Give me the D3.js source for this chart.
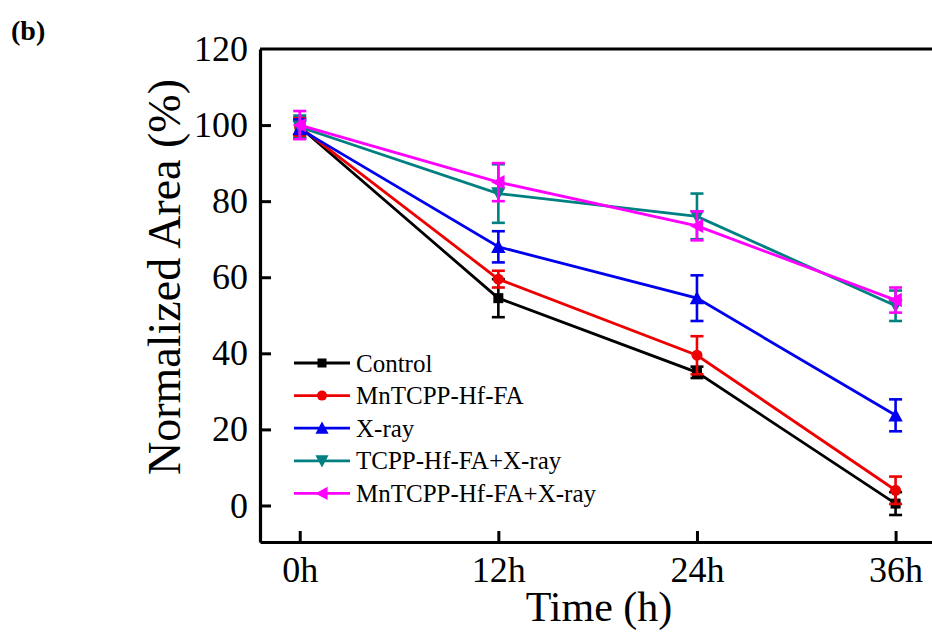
<!DOCTYPE html>
<html>
<head>
<meta charset="utf-8">
<script src="https://cdn.jsdelivr.net/npm/d3@7"></script>
<style>
  body { margin: 0; background: #fff; }
  svg { display: block; }
  svg text { font-family: "Liberation Serif", "Times New Roman", serif !important; }
</style>
</head>
<body>
<svg id="chart"></svg>
<script>
const WIDTH = 932, HEIGHT = 634;
const FONT = "Liberation Serif";

// time points (h) and tick labels
const times = [0, 12, 24, 36];
const timeLabels = ["0h", "12h", "24h", "36h"];
const yTicks = [0, 20, 40, 60, 80, 100, 120];

// series names / values / error bars
const names = ["Control", "MnTCPP-Hf-FA", "X-ray", "TCPP-Hf-FA+X-ray", "MnTCPP-Hf-FA+X-ray"];
const controlVals = [99.5, 54.5, 35, 0.5];
const controlErr = [2, 5, 1.5, 3];
const mnVals = [99.5, 59.5, 39.5, 4];
const mnErr = [2.5, 2.2, 5, 3.6];
const xrayVals = [99, 68, 54.5, 23.7];
const xrayErr = [2.5, 4.1, 6, 4.2];
const tcppVals = [99.5, 82, 76, 52.5];
const tcppErr = [3, 7.7, 6, 4];
const mnxVals = [100, 85, 73.5, 54];
const mnxErr = [3.7, 5, 3.8, 3.3];

const colors = ["#000000", "#ee0000", "#0000ee", "#008080", "#ff00ff"];
const symbols = ["square", "circle", "up", "down", "left"];

const series = [
    [controlVals, controlErr],
    [mnVals, mnErr],
    [xrayVals, xrayErr],
    [tcppVals, tcppErr],
    [mnxVals, mnxErr]
].map(([v, e], i) => ({
    name: names[i],
    color: colors[i],
    symbol: symbols[i],
    points: times.map((t, j) => ({ t: t, v: v[j], e: e[j] }))
}));

const svg = d3.select("#chart")
    .attr("width", WIDTH)
    .attr("height", HEIGHT)
    .attr("font-family", FONT);

const plotLeft = 260, plotRight = 932, plotTop = 49, plotBottom = 542;

const x = d3.scaleLinear()
    .domain([-2.4, 38.2])
    .range([plotLeft, plotRight]);

const y = d3.scaleLinear()
    .domain([-9.6, 120])
    .range([plotBottom, plotTop]);

// marker shapes
function marker(sel, sym, color, s) {
    if (sym === "square") {
        sel.append("rect").attr("x", -s / 2).attr("y", -s / 2)
            .attr("width", s).attr("height", s).attr("fill", color);
    } else if (sym === "circle") {
        sel.append("circle").attr("r", s / 2 + 0.5).attr("fill", color);
    } else {
        const h = s * 0.62;
        let pts;
        if (sym === "up") pts = [[0, -h - 1], [h + 1, h], [-h - 1, h]];
        if (sym === "down") pts = [[0, h + 1], [h + 1, -h], [-h - 1, -h]];
        if (sym === "left") pts = [[-h - 1, 0], [h, -h - 1], [h, h + 1]];
        sel.append("path").attr("d", "M" + pts.join("L") + "Z").attr("fill", color);
    }
}

// axes
const yAxis = d3.axisLeft(y).tickValues(yTicks).tickSizeInner(-11).tickSizeOuter(0).tickPadding(12);
const xAxis = d3.axisBottom(x).tickValues(times).tickFormat((d, i) => timeLabels[i])
    .tickSizeInner(-11).tickSizeOuter(0).tickPadding(14);

const gy = svg.append("g").attr("transform", `translate(${plotLeft},0)`).call(yAxis);
const gx = svg.append("g").attr("transform", `translate(0,${plotBottom})`).call(xAxis);

[gx, gy].forEach(g => {
    g.attr("font-family", FONT).attr("font-size", 36);
    g.select(".domain").attr("stroke", "#000").attr("stroke-width", 3.2);
    g.selectAll(".tick line").attr("stroke", "#000").attr("stroke-width", 3);
    g.selectAll(".tick text").attr("fill", "#000")
        .attr("font-family", FONT).attr("font-size", 36);
});
gy.selectAll(".tick").filter(d => d === 120).select("line").remove();

// top frame line
svg.append("line")
    .attr("x1", plotLeft).attr("x2", plotRight)
    .attr("y1", y(120)).attr("y2", y(120))
    .attr("stroke", "#000").attr("stroke-width", 3.2);

// series lines, error bars, markers
const line = d3.line().x(d => x(d.t)).y(d => y(d.v));

series.forEach(s => {
    const g = svg.append("g");
    g.append("path")
        .datum(s.points)
        .attr("d", line)
        .attr("fill", "none")
        .attr("stroke", s.color)
        .attr("stroke-width", 2.8);

    const eb = g.selectAll(".eb").data(s.points).enter().append("g")
        .attr("stroke", s.color).attr("stroke-width", 2.6);
    eb.append("line")
        .attr("x1", d => x(d.t)).attr("x2", d => x(d.t))
        .attr("y1", d => y(d.v - d.e)).attr("y2", d => y(d.v + d.e));
    eb.append("line")
        .attr("x1", d => x(d.t) - 6.5).attr("x2", d => x(d.t) + 6.5)
        .attr("y1", d => y(d.v + d.e)).attr("y2", d => y(d.v + d.e));
    eb.append("line")
        .attr("x1", d => x(d.t) - 6.5).attr("x2", d => x(d.t) + 6.5)
        .attr("y1", d => y(d.v - d.e)).attr("y2", d => y(d.v - d.e));

    g.selectAll(".mk").data(s.points).enter().append("g")
        .attr("transform", d => `translate(${x(d.t)},${y(d.v)})`)
        .each(function () { marker(d3.select(this), s.symbol, s.color, 10); });
});

// legend
const legend = svg.append("g").attr("transform", "translate(294,363)");
series.forEach((s, i) => {
    const row = legend.append("g").attr("transform", `translate(0,${i * 32.6})`);
    row.append("line").attr("x1", 0).attr("x2", 56).attr("y1", 0).attr("y2", 0)
        .attr("stroke", s.color).attr("stroke-width", 2.8);
    const m = row.append("g").attr("transform", "translate(28,0)");
    marker(m, s.symbol, s.color, 9);
    row.append("text")
        .attr("x", 62).attr("y", 8.5)
        .attr("font-family", FONT)
        .attr("font-size", 25)
        .attr("fill", "#000")
        .text(s.name);
});

// axis titles
svg.append("text")
    .attr("x", 599).attr("y", 621)
    .attr("text-anchor", "middle")
    .attr("font-family", FONT)
    .attr("font-size", 42)
    .text("Time (h)");

svg.append("text")
    .attr("transform", "translate(180,277) rotate(-90)")
    .attr("text-anchor", "middle")
    .attr("font-family", FONT)
    .attr("font-size", 46)
    .text("Normalized Area (%)");

// panel label
svg.append("text")
    .attr("x", 11).attr("y", 40)
    .attr("font-family", FONT)
    .attr("font-size", 28)
    .attr("font-weight", "bold")
    .text("(b)");
</script>
</body>
</html>
